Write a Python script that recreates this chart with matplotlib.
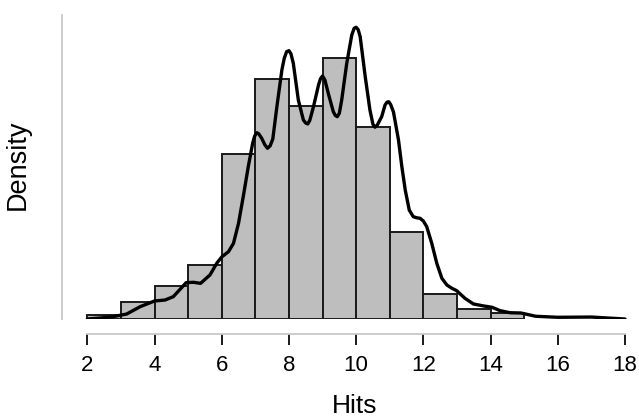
import matplotlib
matplotlib.use("Agg")
import matplotlib.pyplot as plt
import numpy as np

plt.rcParams['font.family'] = ['Liberation Sans', 'DejaVu Sans']

# Histogram (density) bins of width 1
bin_edges = [2, 3, 4, 5, 6, 7, 8, 9, 10, 11, 12, 13, 14, 15]
densities = [0.0033, 0.0128, 0.0255, 0.0413, 0.1266, 0.1837, 0.1628,
             0.1995, 0.1472, 0.0666, 0.0189, 0.0074, 0.0043]

# Density curve points
curve_x = [2.0, 2.4, 2.77, 3.17, 3.57, 4.0, 4.31, 4.56, 4.94, 5.16, 5.37,
           5.65, 5.85, 6.0, 6.2, 6.35, 6.5, 6.64, 6.79, 6.92, 6.98, 7.04,
           7.1, 7.19, 7.28, 7.36, 7.44, 7.52, 7.64, 7.79, 7.86, 7.93, 8.0,
           8.06, 8.13, 8.28, 8.43, 8.5, 8.56, 8.62, 8.73, 8.88, 8.94, 9.0,
           9.07, 9.17, 9.32, 9.38, 9.44, 9.5, 9.57, 9.72, 9.87, 9.94, 10.0,
           10.06, 10.12, 10.27, 10.41, 10.5, 10.56, 10.63, 10.76, 10.86,
           10.92, 10.97, 11.03, 11.11, 11.26, 11.36, 11.46, 11.58, 11.7, 11.8,
           11.9, 12.0, 12.1, 12.25, 12.4, 12.55, 12.7, 12.85, 12.99, 13.24,
           13.49, 13.79, 14.04, 14.28, 14.58, 14.9, 15.34, 16.0, 17.0, 17.46,
           18.0]
curve_y = [0.0, 0.0008, 0.0018, 0.0038, 0.0094, 0.0138, 0.0145, 0.0171,
           0.0278, 0.0281, 0.0273, 0.0337, 0.0426, 0.0475, 0.0515, 0.0579,
           0.0733, 0.0936, 0.1166, 0.1345, 0.1400, 0.1426, 0.1418, 0.1383,
           0.1335, 0.1307, 0.1325, 0.1378, 0.1623, 0.1906, 0.1995, 0.2046,
           0.2054, 0.2030, 0.1957, 0.1676, 0.1523, 0.1500, 0.1493, 0.1520,
           0.1625, 0.1791, 0.1840, 0.1860, 0.1830, 0.1728, 0.1587, 0.1558,
           0.1549, 0.1575, 0.1676, 0.1957, 0.2174, 0.2225, 0.2233, 0.2215,
           0.2161, 0.1855, 0.1600, 0.1490, 0.1468, 0.1485, 0.1549, 0.1638,
           0.1660, 0.1663, 0.1640, 0.1585, 0.1370, 0.1166, 0.0988, 0.0834,
           0.0783, 0.0775, 0.0771, 0.0750, 0.0707, 0.0579, 0.0426, 0.0312,
           0.0260, 0.0235, 0.0217, 0.0158, 0.0115, 0.0100, 0.0090, 0.0064,
           0.0048, 0.0046, 0.0021, 0.0013, 0.0015, 0.0008, 0.0]

xticks = [2, 4, 6, 8, 10, 12, 14, 16, 18]

W, H = 639, 420
fig = plt.figure(figsize=(W / 100, H / 100), dpi=100)
left_px, right_px, top_px, base_px = 62, 630, 15, 319
ax = fig.add_axes([left_px / W, (H - base_px) / H, (right_px - left_px) / W,
                   (base_px - top_px) / H])

px_per_unit = (625 - 87.3) / 16
x0 = 2 + (left_px - 87.3) / px_per_unit
x1 = 2 + (right_px - 87.3) / px_per_unit
ax.set_xlim(x0, x1)
ytop = 0.2327
ax.set_ylim(0, ytop)

widths = np.diff(bin_edges)
ax.bar(bin_edges[:-1], densities, width=widths, align='edge',
       color='#bebebe', edgecolor='#1a1a1a', linewidth=1.4, zorder=2)
ax.plot(curve_x, curve_y, color='black', linewidth=2.4, zorder=3,
        solid_capstyle='round', solid_joinstyle='round')

for s in ['top', 'right']:
    ax.spines[s].set_visible(False)
ax.spines['left'].set_color('#c8c8c8')
ax.spines['left'].set_linewidth(1.3)
ax.spines['left'].set_bounds(0.0, ytop)
ax.spines['bottom'].set_color('#c8c8c8')
ax.spines['bottom'].set_linewidth(1.3)
ax.spines['bottom'].set_position(('outward', 15.3 * 0.72))
ax.spines['bottom'].set_bounds(2, 18)

ax.set_yticks([])
ax.set_xticks(xticks)
ax.set_xticklabels([str(t) for t in xticks])
ax.tick_params(axis='x', direction='out', length=8, width=1.4, color='#1a1a1a',
               labelsize=16, pad=7)

ax.set_xlabel('Hits', fontsize=19, va='center')
ax.xaxis.set_label_coords((355 - left_px) / (right_px - left_px),
                          (base_px - 406) / (base_px - top_px))
ax.set_ylabel('Density', fontsize=19.5, va='center')
ax.yaxis.set_label_coords((18 - left_px) / (right_px - left_px),
                          (base_px - 165) / (base_px - top_px))

fig.savefig('out.png', dpi=100)
